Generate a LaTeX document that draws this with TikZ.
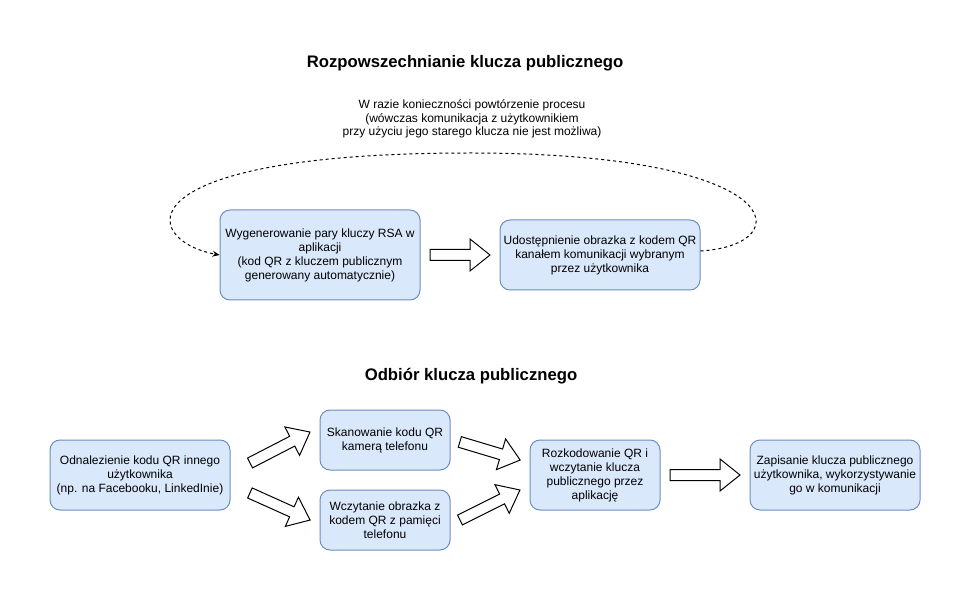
\documentclass[tikz,border=0pt]{standalone}
\usepackage{fontspec}
\setmainfont{Liberation Sans}
\usetikzlibrary{arrows.meta}
\definecolor{boxfill}{HTML}{DAE8FC}
\definecolor{boxline}{HTML}{6C8EBF}
\tikzstyle{stage} = [
  draw=boxline,
  fill=boxfill,
  line width=1pt,
  rounded corners=10pt,
  align=center,
  inner sep=0pt,
  font=\fontsize{12}{14}\selectfont,
]
\tikzstyle{heading} = [font=\fontsize{16.7}{20}\selectfont\bfseries]
\tikzstyle{redo} = [
  draw,
  line width=1pt,
  dash pattern=on 3pt off 3pt,
  -{Stealth[length=7pt,width=6pt]},
]
\tikzset{
  pics/fatarrow/.style={code={
    \draw[line width=1pt, fill=white, line join=miter]
      (-#1/2,-5.5) -- (#1/2-20,-5.5) -- (#1/2-20,-16) -- (#1/2,0)
      -- (#1/2-20,16) -- (#1/2-20,5.5) -- (-#1/2,5.5) -- cycle;
  }},
}

\begin{document}
\begin{tikzpicture}[x=1pt, y=-1pt]
      \useasboundingbox (0,0) rectangle (971,601);

      % Titles
      \node[heading] (title1) at (465,63) {Rozpowszechnianie klucza publicznego};
      \node[heading] (title2) at (471,376) {Odbiór klucza publicznego};

      % Spreading the key
      \node[stage, minimum width=200pt, minimum height=90pt] (gen) at (320,255)
        {Wygenerowanie pary kluczy RSA w\\aplikacji\\(kod QR z kluczem publicznym\\generowany automatycznie)};
      \node[stage, minimum width=200pt, minimum height=70pt] (share) at (600,255)
        {Udostępnienie obrazka z kodem QR\\kanałem komunikacji wybranym\\przez użytkownika};
      \pic (arGen) at (460,255) {fatarrow=60};

      % Repeat loop
      \node[align=center, font=\fontsize{12}{13.5}\selectfont] (note) at (472,119)
        {W razie konieczności powtórzenie procesu\\(wówczas komunikacja z użytkownikiem\\przy użyciu jego starego klucza nie jest możliwa)};
      \draw[redo] ([yshift=4pt]share.east) .. controls (800,245) and (790,153) .. (470,153)
        .. controls (120,153) and (140,240) .. (gen.west);

      % Receiving the key
      \node[stage, minimum width=180pt, minimum height=70pt] (find) at (140,475)
        {Odnalezienie kodu QR innego\\użytkownika\\(np. na Facebooku, LinkedInie)};
      \node[stage, minimum width=130pt, minimum height=60pt] (scan) at (385,440)
        {Skanowanie kodu QR\\kamerą telefonu};
      \node[stage, minimum width=130pt, minimum height=60pt] (load) at (385,520)
        {Wczytanie obrazka z\\kodem QR z pamięci\\telefonu};
      \node[stage, minimum width=130pt, minimum height=70pt] (decode) at (595,475)
        {Rozkodowanie QR i\\wczytanie klucza\\publicznego przez\\aplikację};
      \node[stage, minimum width=170pt, minimum height=70pt] (save) at (835,475)
        {Zapisanie klucza publicznego\\użytkownika, wykorzystywanie\\go w komunikacji};

      % Big arrows
      \pic[rotate=27.3] (arScan) at (280,447.5) {fatarrow=67.5};
      \pic[rotate=-24.2] (arLoad) at (280,506.5) {fatarrow=66};
      \pic[rotate=-16.7] (arScanDec) at (490,451) {fatarrow=63};
      \pic[rotate=26.6] (arLoadDec) at (490,505) {fatarrow=67};
      \pic (arSave) at (705,475) {fatarrow=70};
\end{tikzpicture}
\end{document}
